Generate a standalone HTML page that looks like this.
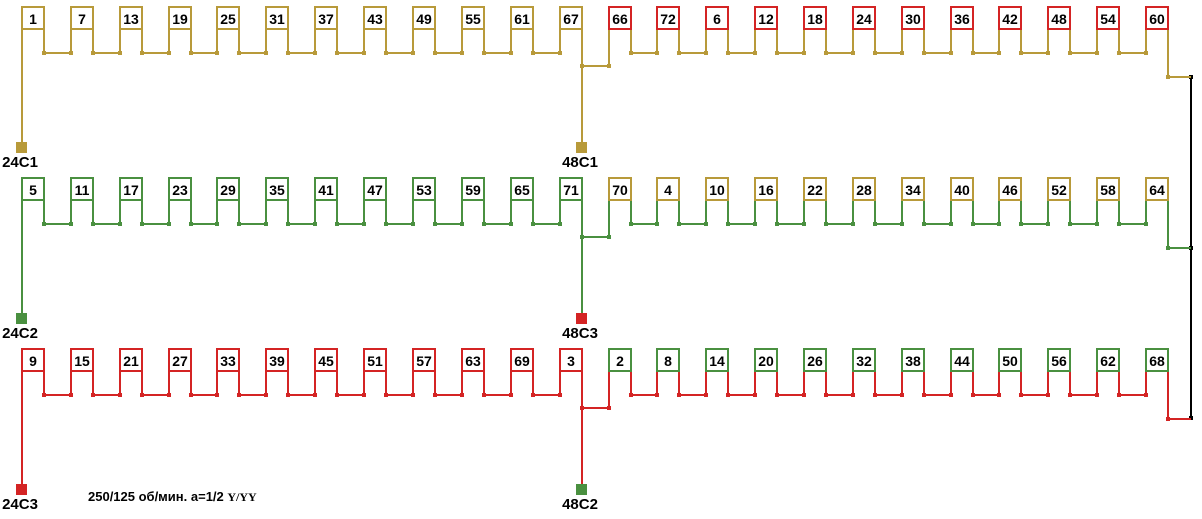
<!DOCTYPE html>
<html><head><meta charset="utf-8"><style>
html,body{margin:0;padding:0;background:#fff;width:1202px;height:519px;overflow:hidden}
svg text{font-family:"Liberation Sans",sans-serif;font-weight:bold;font-size:14px;text-anchor:middle}
svg text.t{font-size:15px}
</style></head><body>
<svg width="1202" height="519" viewBox="0 0 1202 519" xmlns="http://www.w3.org/2000/svg">
<defs>
<g id="wires" fill="none" stroke-width="2">
<path d="M22 29V147 M44 29V53H71V29 M93 29V53H120V29 M142 29V53H169V29 M191 29V53H217V29 M239 29V53H266V29 M288 29V53H315V29 M337 29V53H364V29 M386 29V53H413V29 M435 29V53H462V29 M484 29V53H511V29 M533 29V53H560V29 M582 29V147 M582 66H609V29 M631 29V53H657V29 M679 29V53H706V29 M728 29V53H755V29 M777 29V53H804V29 M826 29V53H853V29 M875 29V53H902V29 M924 29V53H951V29 M973 29V53H999V29 M1021 29V53H1048V29 M1070 29V53H1097V29 M1119 29V53H1146V29 M1168 29V77H1191"/>
</g>
<g id="dots">
<rect x="42" y="51" width="4" height="4"/><rect x="69" y="51" width="4" height="4"/><rect x="91" y="51" width="4" height="4"/><rect x="118" y="51" width="4" height="4"/><rect x="140" y="51" width="4" height="4"/><rect x="167" y="51" width="4" height="4"/><rect x="189" y="51" width="4" height="4"/><rect x="215" y="51" width="4" height="4"/><rect x="237" y="51" width="4" height="4"/><rect x="264" y="51" width="4" height="4"/><rect x="286" y="51" width="4" height="4"/><rect x="313" y="51" width="4" height="4"/><rect x="335" y="51" width="4" height="4"/><rect x="362" y="51" width="4" height="4"/><rect x="384" y="51" width="4" height="4"/><rect x="411" y="51" width="4" height="4"/><rect x="433" y="51" width="4" height="4"/><rect x="460" y="51" width="4" height="4"/><rect x="482" y="51" width="4" height="4"/><rect x="509" y="51" width="4" height="4"/><rect x="531" y="51" width="4" height="4"/><rect x="558" y="51" width="4" height="4"/>
<rect x="580" y="64" width="4" height="4"/><rect x="607" y="64" width="4" height="4"/>
<rect x="629" y="51" width="4" height="4"/><rect x="655" y="51" width="4" height="4"/><rect x="677" y="51" width="4" height="4"/><rect x="704" y="51" width="4" height="4"/><rect x="726" y="51" width="4" height="4"/><rect x="753" y="51" width="4" height="4"/><rect x="775" y="51" width="4" height="4"/><rect x="802" y="51" width="4" height="4"/><rect x="824" y="51" width="4" height="4"/><rect x="851" y="51" width="4" height="4"/><rect x="873" y="51" width="4" height="4"/><rect x="900" y="51" width="4" height="4"/><rect x="922" y="51" width="4" height="4"/><rect x="949" y="51" width="4" height="4"/><rect x="971" y="51" width="4" height="4"/><rect x="997" y="51" width="4" height="4"/><rect x="1019" y="51" width="4" height="4"/><rect x="1046" y="51" width="4" height="4"/><rect x="1068" y="51" width="4" height="4"/><rect x="1095" y="51" width="4" height="4"/><rect x="1117" y="51" width="4" height="4"/><rect x="1144" y="51" width="4" height="4"/>
<rect x="1166" y="75" width="4" height="4"/>
</g>
<g id="lbox"><rect x="22" y="7" width="22" height="22"/><rect x="71" y="7" width="22" height="22"/><rect x="120" y="7" width="22" height="22"/><rect x="169" y="7" width="22" height="22"/><rect x="217" y="7" width="22" height="22"/><rect x="266" y="7" width="22" height="22"/><rect x="315" y="7" width="22" height="22"/><rect x="364" y="7" width="22" height="22"/><rect x="413" y="7" width="22" height="22"/><rect x="462" y="7" width="22" height="22"/><rect x="511" y="7" width="22" height="22"/><rect x="560" y="7" width="22" height="22"/></g>
<g id="rbox"><rect x="609" y="7" width="22" height="22"/><rect x="657" y="7" width="22" height="22"/><rect x="706" y="7" width="22" height="22"/><rect x="755" y="7" width="22" height="22"/><rect x="804" y="7" width="22" height="22"/><rect x="853" y="7" width="22" height="22"/><rect x="902" y="7" width="22" height="22"/><rect x="951" y="7" width="22" height="22"/><rect x="999" y="7" width="22" height="22"/><rect x="1048" y="7" width="22" height="22"/><rect x="1097" y="7" width="22" height="22"/><rect x="1146" y="7" width="22" height="22"/></g>
</defs>

<path d="M1191 77V418" stroke="#000" stroke-width="2"/>
<rect x="1189" y="75" width="4" height="4"/><rect x="1189" y="246" width="4" height="4"/><rect x="1189" y="416" width="4" height="4"/>

<g>
<use href="#wires" stroke="#b89a3a"/><use href="#dots" fill="#b89a3a"/>
<use href="#lbox" fill="#fff" stroke="#b89a3a" stroke-width="2"/>
<use href="#rbox" fill="#fff" stroke="#d42424" stroke-width="2"/>
<rect x="16" y="142" width="11" height="11" fill="#b89a3a"/><rect x="576" y="142" width="11" height="11" fill="#b89a3a"/>
<text class="t" x="20" y="167">24C1</text><text class="t" x="580" y="167">48C1</text>
<text x="33" y="24">1</text><text x="82" y="24">7</text><text x="131" y="24">13</text><text x="180" y="24">19</text><text x="228" y="24">25</text><text x="277" y="24">31</text><text x="326" y="24">37</text><text x="375" y="24">43</text><text x="424" y="24">49</text><text x="473" y="24">55</text><text x="522" y="24">61</text><text x="571" y="24">67</text>
<text x="620" y="24">66</text><text x="668" y="24">72</text><text x="717" y="24">6</text><text x="766" y="24">12</text><text x="815" y="24">18</text><text x="864" y="24">24</text><text x="913" y="24">30</text><text x="962" y="24">36</text><text x="1010" y="24">42</text><text x="1059" y="24">48</text><text x="1108" y="24">54</text><text x="1157" y="24">60</text>
</g>

<g transform="translate(0,171)">
<use href="#wires" stroke="#4a9040"/><use href="#dots" fill="#4a9040"/>
<use href="#lbox" fill="#fff" stroke="#4a9040" stroke-width="2"/>
<use href="#rbox" fill="#fff" stroke="#b89a3a" stroke-width="2"/>
<rect x="16" y="142" width="11" height="11" fill="#4a9040"/><rect x="576" y="142" width="11" height="11" fill="#d42424"/>
<text class="t" x="20" y="167">24C2</text><text class="t" x="580" y="167">48C3</text>
<text x="33" y="24">5</text><text x="82" y="24">11</text><text x="131" y="24">17</text><text x="180" y="24">23</text><text x="228" y="24">29</text><text x="277" y="24">35</text><text x="326" y="24">41</text><text x="375" y="24">47</text><text x="424" y="24">53</text><text x="473" y="24">59</text><text x="522" y="24">65</text><text x="571" y="24">71</text>
<text x="620" y="24">70</text><text x="668" y="24">4</text><text x="717" y="24">10</text><text x="766" y="24">16</text><text x="815" y="24">22</text><text x="864" y="24">28</text><text x="913" y="24">34</text><text x="962" y="24">40</text><text x="1010" y="24">46</text><text x="1059" y="24">52</text><text x="1108" y="24">58</text><text x="1157" y="24">64</text>
</g>

<g transform="translate(0,342)">
<use href="#wires" stroke="#d42424"/><use href="#dots" fill="#d42424"/>
<use href="#lbox" fill="#fff" stroke="#d42424" stroke-width="2"/>
<use href="#rbox" fill="#fff" stroke="#4a9040" stroke-width="2"/>
<rect x="16" y="142" width="11" height="11" fill="#d42424"/><rect x="576" y="142" width="11" height="11" fill="#4a9040"/>
<text class="t" x="20" y="167">24C3</text><text class="t" x="580" y="167">48C2</text>
<text x="33" y="24">9</text><text x="82" y="24">15</text><text x="131" y="24">21</text><text x="180" y="24">27</text><text x="228" y="24">33</text><text x="277" y="24">39</text><text x="326" y="24">45</text><text x="375" y="24">51</text><text x="424" y="24">57</text><text x="473" y="24">63</text><text x="522" y="24">69</text><text x="571" y="24">3</text>
<text x="620" y="24">2</text><text x="668" y="24">8</text><text x="717" y="24">14</text><text x="766" y="24">20</text><text x="815" y="24">26</text><text x="864" y="24">32</text><text x="913" y="24">38</text><text x="962" y="24">44</text><text x="1010" y="24">50</text><text x="1059" y="24">56</text><text x="1108" y="24">62</text><text x="1157" y="24">68</text>
</g>

<text x="88" y="501" style="text-anchor:start;font-size:13px">250/125 об/мин. a=1/2 <tspan style="font-family:'Liberation Serif',serif;font-size:12px">Y/YY</tspan></text>
</svg>
</body></html>
